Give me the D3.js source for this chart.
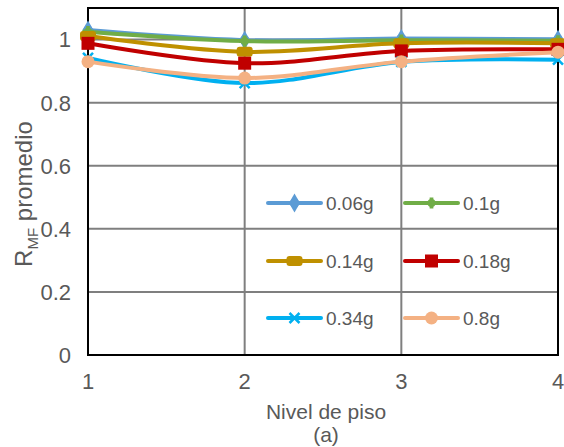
<!DOCTYPE html>
<meta charset="utf-8">
<style>
  body { margin: 0; background: #fff; }
  text { font-family: "Liberation Sans", Arial, sans-serif; fill: #595959; }
  .grid line { stroke: #7f7f7f; stroke-width: 2px; }
  .series { fill: none; stroke-width: 4px; stroke-linejoin: round; stroke-linecap: round; }
</style>
<body>
<script src="https://d3js.org/d3.v7.min.js"></script>
<script>
  // floors and tick labels
  var floors = [1, 2, 3, 4];
  var yTicks = [0, 0.2, 0.4, 0.6, 0.8, 1];

  // series names and values
  var names = ["0.06g", "0.1g", "0.14g", "0.18g", "0.34g", "0.8g"];
  var s006 = [1.030, 0.998, 1.003, 1.001];
  var s010 = [1.025, 0.995, 0.998, 0.996];
  var s014 = [1.011, 0.961, 0.988, 0.988];
  var s018 = [0.988, 0.925, 0.964, 0.969];
  var s034 = [0.942, 0.862, 0.929, 0.936];
  var s080 = [0.930, 0.878, 0.930, 0.960];
  var values = [s006, s010, s014, s018, s034, s080];

  var colors = ["#5b9bd5", "#70ad47", "#bf9000", "#c00000", "#00b0f0", "#f4b183"];
  var markers = ["diamond", "plus", "dash", "square", "x", "circle"];

  var W = 564, H = 447;
  var margin = { top: 8, right: 6, bottom: 92, left: 88 };

  var svg = d3.select("body").append("svg")
    .attr("width", W).attr("height", H);

  var x = d3.scaleLinear().domain([1, 4]).range([margin.left, W - margin.right]);
  var y = d3.scaleLinear().domain([0, 1.1]).range([H - margin.bottom, margin.top]);

  // gridlines
  var grid = svg.append("g").attr("class", "grid");
  grid.selectAll(".hy").data(yTicks.slice(1)).enter().append("line")
    .attr("x1", x(1)).attr("x2", x(4))
    .attr("y1", function (d) { return y(d); }).attr("y2", function (d) { return y(d); });
  grid.selectAll(".vx").data(floors.slice(1, 3)).enter().append("line")
    .attr("y1", y(0)).attr("y2", y(1.1))
    .attr("x1", function (d) { return x(d); }).attr("x2", function (d) { return x(d); });

  // plot border
  svg.append("rect")
    .attr("x", x(1)).attr("y", y(1.1))
    .attr("width", x(4) - x(1)).attr("height", y(0) - y(1.1))
    .attr("fill", "none").attr("stroke", "#000").attr("stroke-width", 2);

  // tick labels
  svg.selectAll(".yl").data(yTicks).enter().append("text")
    .attr("x", x(1) - 17).attr("y", function (d) { return y(d); })
    .attr("dy", "0.36em").attr("text-anchor", "end")
    .style("font-size", "22px")
    .text(function (d) { return d3.format("")(d); });
  svg.selectAll(".xl").data(floors).enter().append("text")
    .attr("x", function (d) { return x(d); }).attr("y", y(0) + 34)
    .attr("text-anchor", "middle")
    .style("font-size", "22px")
    .text(function (d) { return d; });

  // axis titles
  svg.append("text").attr("x", 326).attr("y", 419)
    .attr("text-anchor", "middle").style("font-size", "21px").text("Nivel de piso");
  svg.append("text").attr("x", 326).attr("y", 442)
    .attr("text-anchor", "middle").style("font-size", "21px").text("(a)");
  var yt = svg.append("text")
    .attr("transform", "translate(32," + 194 + ") rotate(-90)")
    .attr("text-anchor", "middle").style("font-size", "24px");
  yt.append("tspan").text("R");
  yt.append("tspan").attr("dy", 6).style("font-size", "15px").text("MF");
  yt.append("tspan").attr("dy", -6).text(" promedio");

  function drawMarker(g, type, color) {
    if (type === "diamond") {
      g.append("path").attr("d", d3.symbol(d3.symbolDiamond, 105)())
        .attr("fill", color);
      g.append("path").attr("d", d3.symbol(d3.symbolCircle, 70)())
        .attr("fill", color);
    } else if (type === "plus") {
      g.append("path").attr("d", d3.symbol(d3.symbolCross, 70)()).attr("fill", color);
      g.append("circle").attr("r", 4).attr("fill", color);
    } else if (type === "dash") {
      g.append("rect").attr("x", -8).attr("y", -5).attr("width", 16).attr("height", 10)
        .attr("rx", 3).attr("fill", color);
    } else if (type === "square") {
      g.append("rect").attr("x", -6.5).attr("y", -6.5).attr("width", 13).attr("height", 13)
        .attr("fill", color);
    } else if (type === "x") {
      g.append("path").attr("d", "M-5,-5L5,5M-5,5L5,-5")
        .attr("stroke", color).attr("stroke-width", 2.5).attr("fill", "none");
    } else {
      g.append("circle").attr("r", 6.5).attr("fill", color);
    }
  }

  var line = d3.line()
    .x(function (d, i) { return x(floors[i]); })
    .y(function (d) { return y(d); })
    .curve(d3.curveCatmullRom.alpha(0.5));

  values.forEach(function (vals, k) {
    svg.append("path").attr("class", "series")
      .attr("d", line(vals)).attr("stroke", colors[k]);
    vals.forEach(function (v, i) {
      var g = svg.append("g").attr("transform", "translate(" + x(floors[i]) + "," + y(v) + ")");
      drawMarker(g, markers[k], colors[k]);
    });
  });

  // legend, 3 rows x 2 columns inside the plot
  var legX = [268, 405], legY = [203, 261, 318];
  names.forEach(function (n, k) {
    var lx = legX[k % 2], ly = legY[Math.floor(k / 2)];
    svg.append("line").attr("x1", lx).attr("x2", lx + 53)
      .attr("y1", ly).attr("y2", ly)
      .attr("stroke", colors[k]).attr("stroke-width", 4).attr("stroke-linecap", "round");
    var g = svg.append("g").attr("transform", "translate(" + (lx + 26.5) + "," + ly + ")");
    drawMarker(g, markers[k], colors[k]);
    svg.append("text").attr("x", lx + 58).attr("y", ly).attr("dy", "0.36em")
      .style("font-size", "19px").text(n);
  });
</script>
</body>
